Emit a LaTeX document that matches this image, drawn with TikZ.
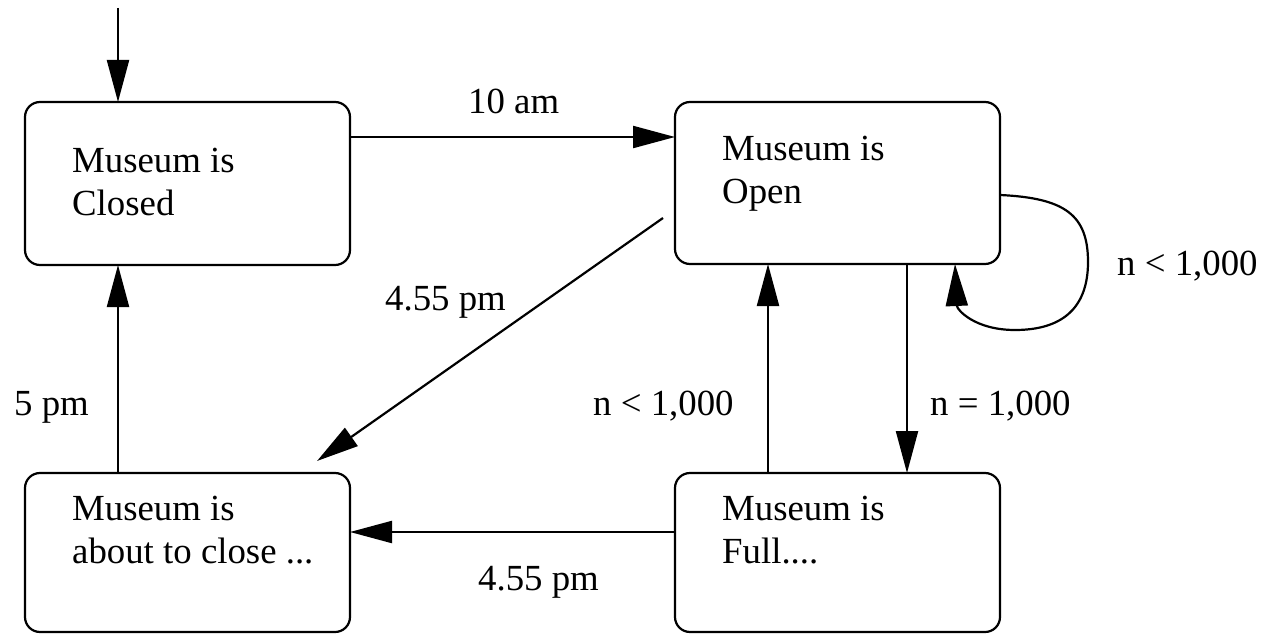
\documentclass[tikz,border=0pt]{standalone}
\usepackage{fontspec}
\setmainfont{Liberation Serif}
\usetikzlibrary{arrows.meta}
\begin{document}
\begin{tikzpicture}[x=1pt,y=-1pt,
  state/.style={draw, line width=2.2pt, rounded corners=15pt, inner sep=0pt, outer sep=0pt, minimum width=325pt},
  txt/.style={anchor=base west, inner sep=0pt, font=\fontsize{36.8}{43}\selectfont},
  arr/.style={line width=2.2pt, -{Triangle[length=42pt,width=22pt]}}]
\useasboundingbox (0,0) rectangle (1261,634);
% states
\node[state, minimum height=163pt] (closed) at (187.5,183.5) {};
\node[state, minimum height=162pt] (open) at (837.5,183) {};
\node[state, minimum height=159pt] (about) at (187.5,552.5) {};
\node[state, minimum height=159pt] (full) at (837.5,552.5) {};
% state texts
\node[txt] (closed1) at (72,172) {Museum is};
\node[txt] (closed2) at (72,215) {Closed};
\node[txt] (open1) at (722,160) {Museum is};
\node[txt] (open2) at (722,203) {Open};
\node[txt] (about1) at (72,520) {Museum is};
\node[txt] (about2) at (72,563) {about to close ...};
\node[txt] (full1) at (722,520) {Museum is};
\node[txt] (full2) at (722,563) {Full....};
% connectors
\coordinate (init) at (118,8);
\draw[arr] (init) -- (closed.north -| init);
\draw[arr] (closed.east |- 0,137) -- (open.west |- 0,137);
\coordinate (dstart) at (663,218);
\coordinate (dend) at (317,461);
\draw[arr] (dstart) -- (dend);
\draw[arr] (about.north -| init) -- (closed.south -| init);
\draw[arr] (full.west |- 0,532) -- (about.east |- 0,532);
\draw[arr] (full.north -| 768,0) -- (open.south -| 768,0);
\draw[arr] (open.south -| 907,0) -- (full.north -| 907,0);
\draw[arr] (open.east |- 0,195) .. controls (1065,198) and (1088,215) .. (1088,262)
  .. controls (1088,310) and (1060,330) .. (1015,330)
  .. controls (975,330) and (957,310) .. (open.south -| 955,0);
% labels
\node[txt] (l10am) at (468,113) {10 am};
\node[txt] (ldiag) at (385,310) {4.55 pm};
\node[txt] (l5pm) at (14,415) {5 pm};
\node[txt] (lless) at (593,415) {n < 1,000};
\node[txt] (leq) at (930,415) {n = 1,000};
\node[txt] (lbottom) at (478,590) {4.55 pm};
\node[txt] (lloop) at (1117,275) {n < 1,000};
\end{tikzpicture}
\end{document}
